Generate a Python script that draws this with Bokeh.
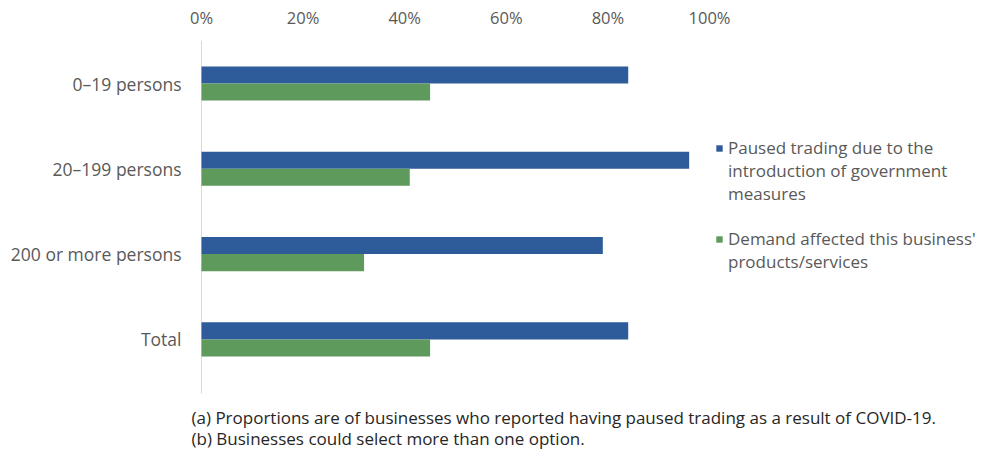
from bokeh.plotting import figure
from bokeh.models import (Range1d, FixedTicker, PrintfTickFormatter, Legend, LegendItem,
                          ColumnDataSource, Label)
from bokeh.core.properties import value
from bokeh.transform import dodge
from bokeh.embed import file_html
from bokeh.resources import INLINE

categories = ["0–19 persons", "20–199 persons", "200 or more persons", "Total"]
paused = [84, 96, 79, 84]
demand = [45, 41, 32, 45]
series_lines = [["Paused trading due to the", "introduction of government", "measures"],
                ["Demand affected this business'", "products/services"]]
x_ticks = [0, 20, 40, 60, 80, 100]
notes = ["(a) Proportions are of businesses who reported having paused trading as a result of COVID-19.",
         "(b) Businesses could select more than one option."]

FONT = "Open Sans"
TXT = "#595959"

# ---- layout geometry (pixels) ----
W, H = 985, 450
FRAME_TOP = 40
ZERO_PX = 201          # x pixel of 0 %
PX_PER_PCT = 5.08      # pixels per percentage point
PX_PER_CAT = 85.3      # pixels between category centres
FIRST_CAT_PX = 83      # y pixel of the first category centre
AXIS_BOTTOM_PX = 393   # where the category axis line ends

x_start = -ZERO_PX / PX_PER_PCT
x_end = (W - ZERO_PX) / PX_PER_PCT
y_end = (len(categories) - 1) + (FIRST_CAT_PX - FRAME_TOP) / PX_PER_CAT
y_start = y_end - (H - FRAME_TOP) / PX_PER_CAT
axis_bottom = y_end - (AXIS_BOTTOM_PX - FRAME_TOP) / PX_PER_CAT
label_x = -20 / PX_PER_PCT

pos = list(range(len(categories)))[::-1]
src = ColumnDataSource(dict(cat=categories, pos=pos, paused=paused, demand=demand,
                            lx=[label_x] * len(categories)))

p = figure(width=W, height=H, output_backend="svg", toolbar_location=None,
           x_range=Range1d(x_start, x_end), y_range=Range1d(y_start, y_end),
           x_axis_location="above", y_axis_location=None,
           min_border_left=0, min_border_right=0, min_border_top=FRAME_TOP, min_border_bottom=0)
p.outline_line_color = None
p.background_fill_color = "white"
p.border_fill_color = "white"
p.xgrid.grid_line_color = None
p.ygrid.grid_line_color = None

# category axis line at 0 %
p.segment(x0=[0], y0=[axis_bottom], x1=[0], y1=[y_end], line_color="#D9D9D9", line_width=1)

r1 = p.hbar(y=dodge("pos", 0.1), left=0, right="paused", height=0.2,
            source=src, fill_color="#2E5B99", line_color=None)
r2 = p.hbar(y=dodge("pos", -0.1), left=0, right="demand", height=0.2,
            source=src, fill_color="#5E9A5C", line_color=None)
blank = p.hbar(y=[], right=[], height=0.2, fill_alpha=0, line_alpha=0)

# category labels
p.text(x="lx", y="pos", text="cat", source=src, text_align="right", text_baseline="middle",
       text_font=value(FONT), text_font_size=value("17.5px"), text_color=TXT)

xa = p.xaxis[0]
xa.ticker = FixedTicker(ticks=x_ticks)
xa.formatter = PrintfTickFormatter(format="%d%%")
xa.axis_line_color = None
xa.major_tick_line_color = None
xa.minor_tick_line_color = None
xa.major_tick_out = 0
xa.major_tick_in = 0
xa.minor_tick_out = 0
xa.major_label_text_font = FONT
xa.major_label_text_font_size = "16.5px"
xa.major_label_text_color = TXT
xa.major_label_standoff = 12

legend_style = dict(label_text_font=FONT, label_text_font_size="17px", label_text_color=TXT,
                    label_text_line_height=0.88, glyph_width=8, glyph_height=8,
                    label_height=18, spacing=0, padding=0, margin=0, label_standoff=5,
                    border_line_color=None, background_fill_alpha=0)

# legend block positions: (left px, bottom px from the bottom edge)
for lines, rend, ypos in zip(series_lines, [r1, r2], [245, 177]):
    items = [LegendItem(label=line, renderers=[rend if j == 0 else blank])
             for j, line in enumerate(lines)]
    p.add_layout(Legend(items=items, location=(715, ypos), **legend_style), "center")

for t, ypos in zip(notes, [33, 12]):
    p.add_layout(Label(x=191, y=ypos, x_units="screen", y_units="screen", text=t,
                       text_font=FONT, text_font_size="17px", text_color="#262626",
                       text_baseline="middle", text_align="left"))

open("out.html", "w").write(file_html(p, INLINE))
